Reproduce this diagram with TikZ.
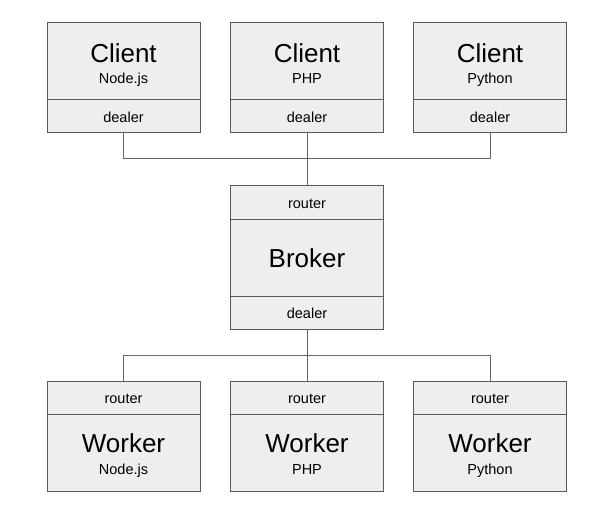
\documentclass[tikz,border=0pt]{standalone}
\usepackage{fontspec}
\setmainfont{Liberation Sans}
\definecolor{boxfill}{HTML}{EEEEEE}
\definecolor{boxline}{HTML}{5A5A5A}
\definecolor{wire}{HTML}{666666}
\begin{document}
\begin{tikzpicture}[x=1pt,y=-1pt,
  box/.style={draw=boxline,fill=boxfill,line width=1pt,inner sep=0pt,minimum width=153pt,minimum height=110pt},
  bbox/.style={box,minimum height=143pt},
  sep/.style={draw=boxline,line width=1pt},
  conn/.style={draw=wire,line width=1pt},
  big/.style={anchor=base,font=\fontsize{26}{30}\selectfont},
  small/.style={anchor=base,font=\fontsize{14.5}{17}\selectfont}]
\useasboundingbox (0,0) rectangle (600,516);
% clients
\foreach \n/\x/\l in {c1/123.5/Node.js,c2/307/PHP,c3/490/Python}{
  \node[box] (\n) at (\x,78) {};
  \draw[sep] (\n.west |- 0,100) -- (\n.east |- 0,100);
  \node[big] (\n t) at (\x,62.5) {Client};
  \node[small] (\n l) at (\x,84) {\l};
  \node[small] (\n s) at (\x,122.5) {dealer};
}
% broker
\node[bbox] (b) at (307,257.5) {};
\draw[sep] (b.west |- 0,219) -- (b.east |- 0,219);
\draw[sep] (b.west |- 0,296) -- (b.east |- 0,296);
\node[small] (br) at (307,208.3) {router};
\node[big] (bt) at (307,267.3) {Broker};
\node[small] (bd) at (307,318.3) {dealer};
% workers
\foreach \n/\x/\l in {w1/123.5/Node.js,w2/307/PHP,w3/490/Python}{
  \node[box] (\n) at (\x,436) {};
  \draw[sep] (\n.west |- 0,414) -- (\n.east |- 0,414);
  \node[small] (\n s) at (\x,403.3) {router};
  \node[big] (\n t) at (\x,452.7) {Worker};
  \node[small] (\n l) at (\x,474.3) {\l};
}
% connectors
\coordinate (bus1) at (307,159);
\coordinate (bus2) at (307,355.5);
\draw[conn] (c1.south) |- (bus1);
\draw[conn] (c3.south) |- (bus1);
\draw[conn] (c2.south) -- (b.north);
\draw[conn] (w1.north) |- (bus2);
\draw[conn] (w3.north) |- (bus2);
\draw[conn] (b.south) -- (w2.north);
\end{tikzpicture}
\end{document}
